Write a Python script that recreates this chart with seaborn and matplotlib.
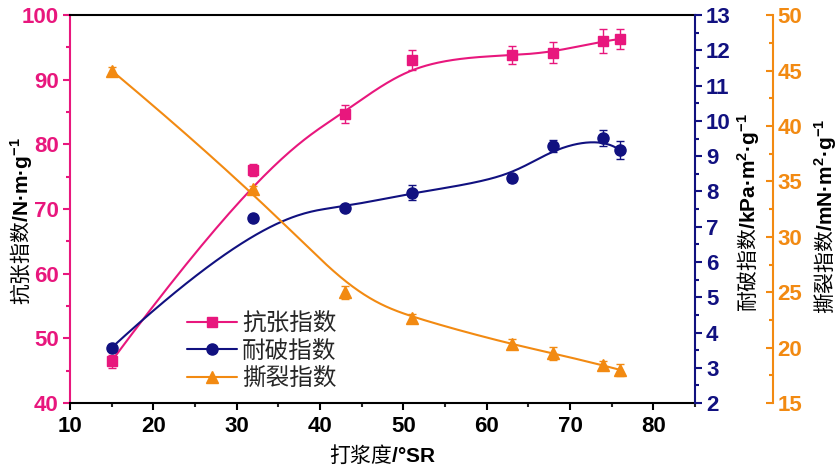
import numpy as np
import pandas as pd
import matplotlib
matplotlib.use("Agg")
import matplotlib.pyplot as plt
from matplotlib.lines import Line2D
from matplotlib.ticker import AutoMinorLocator, MultipleLocator
from matplotlib.font_manager import FontProperties
import seaborn as sns

# 数据
beating = [15, 32, 43, 51, 63, 68, 74, 76]
tensile = [46.5, 76.0, 84.7, 93.0, 93.8, 94.2, 96.0, 96.3]
tensile_err = [1.0, 0.95, 1.4, 1.55, 1.35, 1.6, 1.8, 1.55]
burst = [3.57, 7.25, 7.54, 7.97, 8.37, 9.29, 9.52, 9.17]
burst_err = [0.1, 0.08, 0.08, 0.22, 0.1, 0.16, 0.22, 0.25]
tear = [45.0, 34.3, 25.0, 22.7, 20.3, 19.5, 18.4, 18.0]
tear_err = [0.3, 0.3, 0.6, 0.3, 0.45, 0.57, 0.4, 0.53]

c_ten = "#E8177D"
c_bur = "#111180"
c_tea = "#F28A12"

sns.set_style("ticks")
plt.rcParams["font.family"] = ["Liberation Sans", "Noto Sans CJK SC"]
plt.rcParams["mathtext.fontset"] = "custom"
plt.rcParams["mathtext.bf"] = "Liberation Sans:weight=bold"
plt.rcParams["mathtext.rm"] = "Liberation Sans"


def bspline(px, py, n=300, k=3):
    # B样条平滑 (数据点作控制点)
    px = np.asarray(px, float)
    py = np.asarray(py, float)
    m = len(px)
    knots = np.concatenate([np.zeros(k), np.linspace(0, 1, m - k + 1), np.ones(k)])
    t = np.linspace(0, 1, n)
    B = np.array([(t >= knots[i]) & (t < knots[i + 1]) for i in range(len(knots) - 1)], float)
    B[m - 1, t == 1] = 1
    for d in range(1, k + 1):
        Bn = np.zeros((len(knots) - 1 - d, n))
        for i in range(len(knots) - 1 - d):
            a = knots[i + d] - knots[i]
            b = knots[i + d + 1] - knots[i + 1]
            left = (t - knots[i]) / a * B[i] if a > 0 else 0
            right = (knots[i + d + 1] - t) / b * B[i + 1] if b > 0 else 0
            Bn[i] = left + right
        B = Bn
    return B.T @ px, B.T @ py


fig = plt.figure(figsize=(8.4, 4.72), dpi=100)
ax = fig.add_axes([0.0833, 0.146, 0.744, 0.822])
ax2 = ax.twinx()
ax3 = ax.twinx()
ax3.spines["right"].set_position(("axes", 1.125))

series = [
    (ax, tensile, tensile_err, c_ten, "s", 7),
    (ax2, burst, burst_err, c_bur, "o", 8),
    (ax3, tear, tear_err, c_tea, "^", 8),
]
for a, vals, err, col, mk, ms in series:
    sx, sy = bspline(beating, vals)
    curve = pd.DataFrame({"x": sx, "y": sy})
    sns.lineplot(data=curve, x="x", y="y", ax=a, color=col, lw=1.5, sort=False)
    a.errorbar(beating, vals, yerr=err, fmt=mk, color=col, ms=ms,
               capsize=3, elinewidth=1, capthick=1, zorder=3)
    a.set_xlabel("")

ax.set_xlim(10, 85)
ax.set_ylim(40, 100)
ax2.set_ylim(2, 13)
ax3.set_ylim(15, 50)
ax.xaxis.set_major_locator(MultipleLocator(10))
ax.yaxis.set_major_locator(MultipleLocator(10))
ax2.yaxis.set_major_locator(MultipleLocator(1))
ax3.yaxis.set_major_locator(MultipleLocator(5))
for a in (ax, ax2, ax3):
    a.xaxis.set_minor_locator(AutoMinorLocator(2))
    a.yaxis.set_minor_locator(AutoMinorLocator(2))

fs = 16
ax.tick_params(axis="x", which="major", direction="out", length=5, width=1.5,
               labelsize=fs, colors="black", pad=4)
ax.tick_params(axis="x", which="minor", direction="out", length=3, width=1.5)
ax.tick_params(axis="y", which="major", direction="out", length=5, width=1.5,
               labelsize=fs, colors=c_ten, pad=3)
ax.tick_params(axis="y", which="minor", direction="out", length=3, width=1.5, colors=c_ten)
ax2.tick_params(axis="y", which="major", direction="out", length=5, width=1.5,
                labelsize=fs, colors=c_bur, pad=3)
ax2.tick_params(axis="y", which="minor", direction="out", length=3, width=1.5, colors=c_bur)
ax3.tick_params(axis="y", which="major", direction="in", length=5, width=1.5,
                labelsize=fs, colors=c_tea, pad=3)
ax3.tick_params(axis="y", which="minor", direction="in", length=3, width=1.5, colors=c_tea)
for a in (ax, ax2, ax3):
    for t in a.get_xticklabels() + a.get_yticklabels():
        t.set_fontweight("bold")

for a in (ax, ax2, ax3):
    for s in a.spines.values():
        s.set_linewidth(1.5)
ax.spines["left"].set_color(c_ten)
ax.spines["top"].set_color("black")
ax.spines["bottom"].set_color("black")
ax2.spines["right"].set_color(c_bur)
ax3.spines["right"].set_color(c_tea)
for a in (ax2, ax3):
    a.spines["left"].set_visible(False)
    a.spines["top"].set_visible(False)
    a.spines["bottom"].set_visible(False)
ax.spines["right"].set_visible(False)

lab = dict(fontsize=15, fontweight="normal", family="Noto Sans CJK SC", color="black")
ax.set_xlabel("打浆度$\\mathbf{/°SR}$", labelpad=5, **lab)
ax.set_ylabel("抗张指数$\\mathbf{/N·m·g^{-1}}$", **lab)
ax2.set_ylabel("耐破指数$\\mathbf{/kPa·m^{2}·g^{-1}}$", **lab)
ax3.set_ylabel("撕裂指数$\\mathbf{/mN·m^{2}·g^{-1}}$", **lab)
ax.yaxis.set_label_coords(-0.058, 0.47)
ax2.yaxis.set_label_coords(1.064, 0.49)
ax3.yaxis.set_label_coords(1.188, 0.48)
ax2.yaxis.label.set_rotation(90)
ax3.yaxis.label.set_rotation(90)

handles = [Line2D([], [], color=c, marker=m, ms=s, lw=1.5)
           for _, _, _, c, m, s in series]
ax.legend(handles, ["抗张指数", "耐破指数", "撕裂指数"], loc="upper left",
          bbox_to_anchor=(0.188, 0.235), frameon=False, borderpad=0, borderaxespad=0,
          handlelength=2.1, handletextpad=0.2, labelspacing=0.2,
          prop=FontProperties(family="Noto Sans CJK SC", size=17, weight="normal"))

fig.savefig("out.png", dpi=100)
